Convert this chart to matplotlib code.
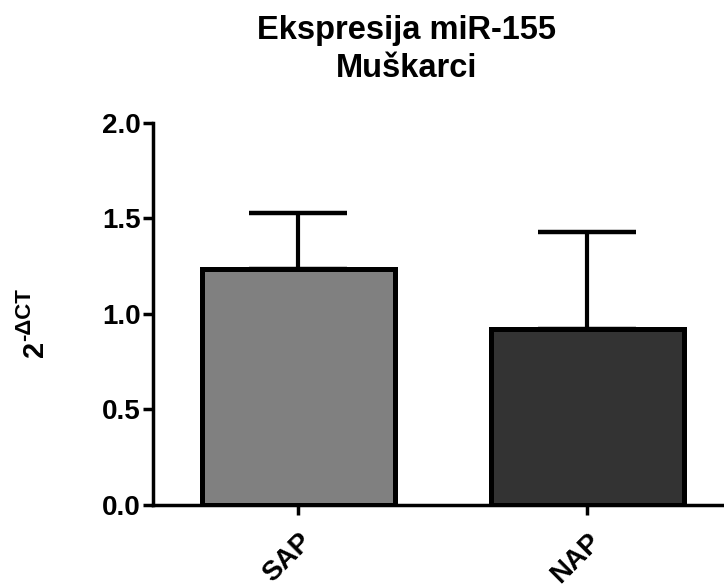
import matplotlib
matplotlib.use('Agg')
import matplotlib.pyplot as plt

plt.rcParams['font.family'] = ['Liberation Sans', 'DejaVu Sans']
plt.rcParams['font.weight'] = 'bold'

# Datos
grupos = ['SAP', 'NAP']
medias = [1.233, 0.921]
errores = [0.297, 0.506]
colores = ['#808080', '#333333']

fig = plt.figure(figsize=(7.24, 5.84), dpi=100)
ax = fig.add_axes([0.2113, 0.1353, 0.7887, 0.6546])

x = list(range(len(grupos)))
ax.bar(x, medias, width=0.668, color=colores, edgecolor='black', linewidth=3.6, zorder=2)
ax.errorbar(x, medias, yerr=[[0, 0], errores], fmt='none', ecolor='black',
            elinewidth=3, capsize=35, capthick=3.2, zorder=1)

ax.set_xlim(-0.502, 1.474)
ax.set_ylim(0, 2.0)
ax.set_yticks([0.0, 0.5, 1.0, 1.5, 2.0])
ax.set_yticklabels(['0.0', '0.5', '1.0', '1.5', '2.0'], fontsize=20, fontweight='bold')
ax.set_xticks(x)
ax.set_xticklabels(grupos, fontsize=20, fontweight='bold', rotation=45,
                   ha='right', rotation_mode='anchor')

for lado in ['top', 'right']:
    ax.spines[lado].set_visible(False)
for lado in ['left', 'bottom']:
    ax.spines[lado].set_linewidth(2.5)
ax.tick_params(axis='both', width=2.5, length=7, direction='out')
ax.tick_params(axis='x', pad=10)
ax.tick_params(axis='y', pad=2)

# Etiqueta del eje y: 2 con superindice -ΔCT
fig.text(35 / 724, 1 - 341 / 584, '2', rotation=90, ha='center', va='top',
         fontsize=21, fontweight='bold')
fig.text(25 / 724, 1 - 341 / 584, '-ΔCT', rotation=90, ha='center', va='bottom',
         fontsize=16, fontweight='bold')

fig.text(0.562, 0.948, 'Ekspresija miR-155', ha='center', va='center',
         fontsize=23.5, fontweight='bold')
fig.text(0.562, 0.883, 'Muškarci', ha='center', va='center',
         fontsize=23.5, fontweight='bold')

fig.savefig('out.png', dpi=100)
